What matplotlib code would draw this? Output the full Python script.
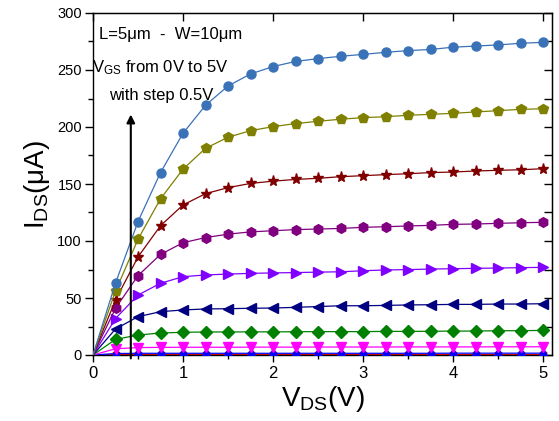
import matplotlib
matplotlib.use("Agg")
import matplotlib.pyplot as plt
import numpy as np

plt.rcParams['font.family'] = ['Liberation Sans', 'DejaVu Sans']
plt.rcParams['mathtext.fontset'] = 'custom'
plt.rcParams['mathtext.rm'] = 'Liberation Sans'
plt.rcParams['mathtext.it'] = 'Liberation Sans:italic'

vds = [0.0, 0.25, 0.5, 0.75, 1.0, 1.25, 1.5, 1.75, 2.0, 2.25, 2.5,
       2.75, 3.0, 3.25, 3.5, 3.75, 4.0, 4.25, 4.5, 4.75, 5.0]

vgs_labels = ['0V', '0.5V', '1.0V', '1.5V', '2.0V', '2.5V', '3.0V', '3.5V', '4.0V', '4.5V', '5.0V']

ids_0v0 = [0]*21
ids_0v5 = [0, 0.3, 0.3, 0.3, 0.3, 0.3, 0.3, 0.3, 0.3, 0.3, 0.3,
           0.3, 0.3, 0.3, 0.3, 0.3, 0.3, 0.3, 0.3, 0.3, 0.3]
ids_1v0 = [0, 1.3, 1.5, 1.5, 1.5, 1.5, 1.5, 1.5, 1.5, 1.5, 1.5,
           1.5, 1.5, 1.5, 1.5, 1.5, 1.6, 1.6, 1.6, 1.6, 1.6]
ids_1v5 = [0, 5.5, 6.5, 6.7, 6.8, 6.8, 6.8, 6.9, 6.9, 6.9, 7.0,
           7.0, 7.0, 7.0, 7.1, 7.1, 7.1, 7.1, 7.2, 7.2, 7.2]
ids_2v0 = [0, 13.7, 17.5, 19.3, 19.9, 20.2, 20.2, 20.3, 20.3, 20.4, 20.5,
           20.5, 20.5, 20.7, 20.7, 20.8, 21.0, 21.0, 21.3, 21.3, 21.6]
ids_2v5 = [0, 22.8, 33.6, 38.0, 39.5, 40.4, 40.6, 41.0, 41.2, 41.8, 42.5,
           43.2, 43.2, 43.5, 43.9, 44.1, 44.4, 44.4, 44.7, 44.7, 45.0]
ids_3v0 = [0, 32.0, 52.6, 62.9, 68.7, 70.2, 71.0, 71.6, 72.0, 72.3, 72.7,
           73.0, 73.9, 74.6, 74.9, 75.4, 75.7, 76.0, 76.3, 76.6, 76.9]
ids_3v5 = [0, 41.0, 69.6, 88.2, 98.5, 103.0, 106.0, 108.0, 109.0, 110.0, 110.5,
           111.0, 112.0, 112.5, 113.2, 113.7, 114.6, 114.9, 115.5, 116.0, 116.4]
ids_4v0 = [0, 48.2, 86.0, 113.4, 131.6, 141.5, 146.8, 150.5, 152.5, 154.0, 155.0,
           156.4, 157.3, 158.2, 159.0, 160.0, 160.5, 161.4, 162.0, 162.5, 163.4]
ids_4v5 = [0, 56.0, 101.5, 137.0, 163.0, 181.3, 191.0, 196.8, 200.3, 203.0, 205.0,
           206.8, 208.2, 209.0, 210.3, 211.1, 212.0, 213.2, 214.3, 215.5, 216.0]
ids_5v0 = [0, 63.0, 117.0, 160.0, 194.5, 219.0, 236.0, 246.5, 253.0, 257.5, 260.0,
           262.0, 263.7, 265.5, 267.0, 268.0, 270.0, 271.0, 272.0, 273.4, 274.3]

series = [ids_0v0, ids_0v5, ids_1v0, ids_1v5, ids_2v0, ids_2v5,
          ids_3v0, ids_3v5, ids_4v0, ids_4v5, ids_5v0]
colors = ['#000000', '#C00000', '#0000FF', '#FF00FF', '#008000', '#000080',
          '#8000FF', '#800080', '#800000', '#808000', '#3A72B8']
markers = ['s', 's', '^', 'v', 'D', '<', '>', 'h', '*', 'p', 'o']
msizes = [5, 5, 7, 7, 6, 7, 7, 7, 8, 7, 6.5]

fig = plt.figure(figsize=(5.59, 4.21), dpi=100)
ax = fig.add_axes([93/559, 1-355/421, (552-93)/559, (355-13)/421])

for ids, c, m, ms in zip(series, colors, markers, msizes):
    ax.plot(vds, ids, color=c, lw=0.9, marker=m, markersize=ms,
            markevery=slice(1, None), markeredgecolor=c, markerfacecolor=c,
            zorder=3)

ax.set_xlim(0, 5.1)
ax.set_ylim(0, 300)
ax.set_xticks([0, 1, 2, 3, 4, 5])
ax.set_xticks(np.arange(0.5, 5.1, 1.0), minor=True)
ax.set_yticks(np.arange(0, 301, 50))
ax.set_yticks(np.arange(25, 300, 50), minor=True)
ax.tick_params(axis='x', which='major', direction='out', length=5, width=1,
               labelsize=12, pad=3)
ax.tick_params(axis='x', which='minor', direction='out', length=3, width=1)
ax.tick_params(axis='y', which='major', direction='out', length=6, width=1,
               labelsize=10.5, pad=2)
ax.tick_params(axis='y', which='minor', direction='out', length=3.5, width=1)
for s in ax.spines.values():
    s.set_linewidth(1.0)

top = ax.secondary_xaxis('top')
top.set_xticks([0, 1, 2, 3, 4, 5])
top.tick_params(direction='in', length=6, width=1, labeltop=False)
right = ax.secondary_yaxis('right')
right.set_yticks(np.arange(0, 301, 50))
right.set_yticks(np.arange(25, 300, 50), minor=True)
right.tick_params(which='both', direction='in', length=6, width=1, labelright=False)

ax.set_xlabel(r'V$_{\mathregular{DS}}$(V)', fontsize=20, labelpad=2)
ax.set_ylabel(r'I$_{\mathregular{DS}}$($\mathregular{\mu}$A)', fontsize=20, labelpad=4)

ax.text(0.067, 281, 'L=5μm  -  W=10μm', fontsize=12, ha='left', va='center')
ax.text(-0.01, 252, r'V$_{\mathregular{GS}}$ from 0V to 5V', fontsize=12,
        ha='left', va='center', zorder=5)
ax.text(0.76, 228, 'with step 0.5V', fontsize=12, ha='center', va='center')

ax.annotate('', xy=(0.42, 211), xytext=(0.42, -3),
            arrowprops=dict(arrowstyle='-|>', color='black', lw=1.5,
                            mutation_scale=12, shrinkA=0, shrinkB=0),
            annotation_clip=False, zorder=6)

fig.savefig('out.png', dpi=100)
